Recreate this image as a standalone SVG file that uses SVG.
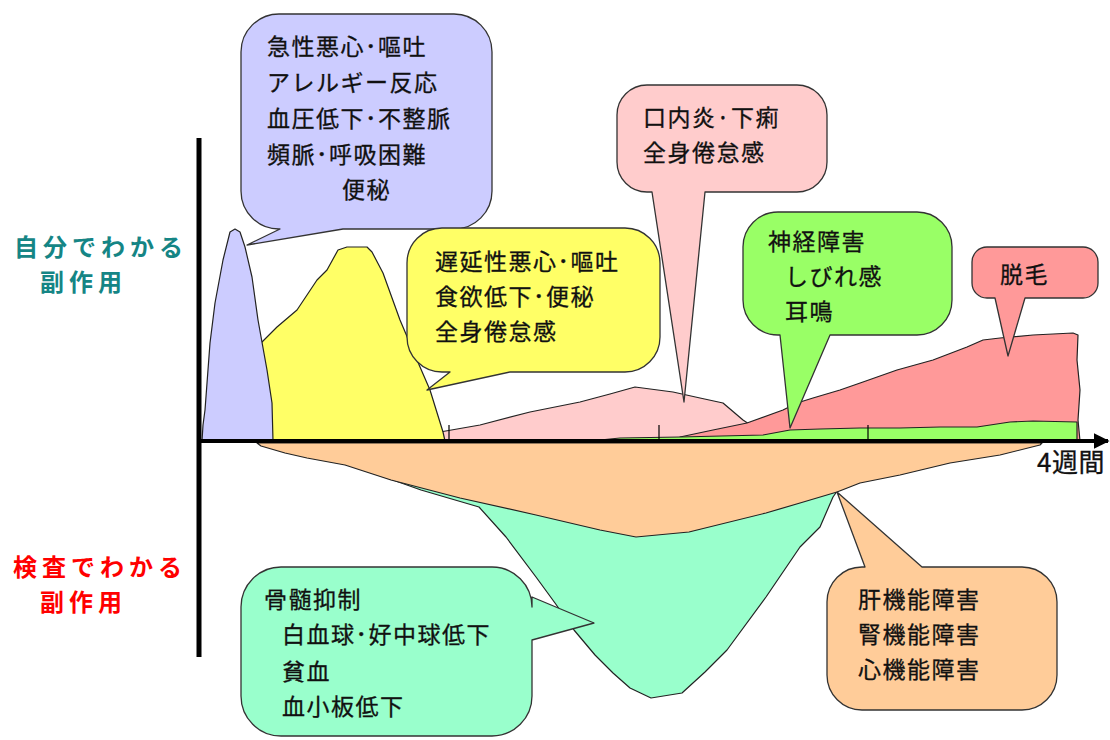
<svg xmlns="http://www.w3.org/2000/svg" width="1110" height="740" viewBox="0 0 1110 740">
<style>
.area{stroke:#222;stroke-width:1.2;stroke-linejoin:round}
.bub{stroke:#333;stroke-width:1.3;stroke-linejoin:round}
.t{font-family:"Noto Sans CJK JP","Noto Sans CJK SC",sans-serif;font-size:23px;fill:#111;stroke:#111;stroke-width:0.3;letter-spacing:1.5px}
.lab{font-family:"Noto Sans CJK JP","Noto Sans CJK SC",sans-serif;font-size:24px;letter-spacing:5px;font-weight:bold}
</style>
<defs>
<marker id="arr" viewBox="0 0 10 10" refX="9" refY="5" markerWidth="4" markerHeight="4" orient="auto" markerUnits="strokeWidth"><path d="M0,0 L10,5 L0,10 Z" fill="#000"/></marker>
</defs>
<rect width="1110" height="740" fill="#fff"/>

<g id="areas">
<path id="area-pink" class="area" fill="#ffcccc" d="M393,441 L420,436 L440,432 L480,425 L530,412 L580,402 L610,394 L635,387 L673,392 L700,398 L723,403 L743,420 L758,430 L770,441 Z"/>
<path id="area-red" class="area" fill="#ff9999" d="M680,441 L680,437 L713,430 L747,423 L783,410 L797,403 L813,398 L840,390 L863,382 L897,370 L933,360 L967,347 L983,340 L1000,338 L1033,335 L1073,333 L1078,335 L1077,360 L1080,390 L1078,420 L1080,441 Z"/>
<path id="area-green" class="area" fill="#99ff66" d="M590,441 L620,438 L680,437 L763,435 L790,430 L820,429 L860,428 L900,428 L940,427 L977,427 L1010,422 L1033,421 L1077,422 L1077,441 Z"/>
<path id="area-yellow" class="area" fill="#ffff66" d="M255,441 L258,346 L262,342 L277,327 L297,310 L317,280 L327,270 L338,250 L347,247 L367,247 L372,252 L383,273 L400,320 L417,360 L430,390 L443,432 L445,441 Z"/>
<path id="area-blue" class="area" fill="#ccccff" d="M202,441 L203,425 L205,410 L210,343 L215,303 L223,260 L230,232 L235,229 L240,232 L245,247 L252,277 L258,320 L267,370 L272,403 L273,441 Z"/>
<path id="area-teal" class="area" fill="#99ffcc" d="M330,443 L345,463 L421,490 L479,507 L506,537 L536,577 L555,603 L574,630 L595,655 L613,673 L630,688 L651,698 L682,693 L705,672 L727,650 L766,597 L800,547 L820,527 L833,497 L845,480 L845,443 Z"/>
<path id="area-orange" class="area" fill="#ffcc99" d="M257,443 L261,446 L285,453 L307,458 L345,465 L391,480 L460,498 L536,515 L600,530 L636,537 L689,532 L766,513 L800,503 L837,492 L860,483 L900,475 L950,463 L1000,455 L1040,445 L1042,443 Z"/>
</g>

<g id="axes">
<line x1="199" y1="138" x2="199" y2="657" stroke="#000" stroke-width="5"/>
<line x1="199" y1="441" x2="1108" y2="441" stroke="#000" stroke-width="4" marker-end="url(#arr)"/>
<line x1="449" y1="425" x2="449" y2="441" stroke="#000" stroke-width="1.2"/>
<line x1="659" y1="425" x2="659" y2="441" stroke="#000" stroke-width="1.2"/>
<line x1="868" y1="425" x2="868" y2="441" stroke="#000" stroke-width="1.2"/>
<text x="1037" y="472" class="t" style="font-size:26px;letter-spacing:0.5px">4週間</text>
</g>

<g id="label-self">
<text class="lab" fill="#158585" x="14" y="256">自分でわかる</text>
<text class="lab" fill="#158585" x="40" y="291">副作用</text>
</g>
<g id="label-test">
<text class="lab" fill="#ff0000" x="13" y="576">検査でわかる</text>
<text class="lab" fill="#ff0000" x="40" y="611">副作用</text>
</g>

<g id="bubble-acute">
<path class="bub" fill="#ccccff" d="M279,14 H454 A38,38 0 0 1 492,52 V191 A38,38 0 0 1 454,229 H343 L247,245 L280,229 A38,38 0 0 1 241,191 V52 A38,38 0 0 1 279,14 Z"/>
<text class="t" x="267" y="55">急性悪心･嘔吐</text>
<text class="t" x="267" y="91">アレルギー反応</text>
<text class="t" x="267" y="127">血圧低下･不整脈</text>
<text class="t" x="267" y="163">頻脈･呼吸困難</text>
<text class="t" x="342" y="198">便秘</text>
</g>

<g id="bubble-delayed">
<path class="bub" fill="#ffff66" d="M442,228 H625 A35,35 0 0 1 660,263 V337 A35,35 0 0 1 625,372 H510 L427,390 L450,372 H442 A35,35 0 0 1 407,337 V263 A35,35 0 0 1 442,228 Z"/>
<text class="t" x="435" y="270">遅延性悪心･嘔吐</text>
<text class="t" x="435" y="305">食欲低下･便秘</text>
<text class="t" x="435" y="340">全身倦怠感</text>
</g>

<g id="bubble-stomatitis">
<path class="bub" fill="#ffcccc" d="M647,85 H797 A30,30 0 0 1 827,115 V162 A30,30 0 0 1 797,192 H705 L684,402 L652,192 H647 A30,30 0 0 1 617,162 V115 A30,30 0 0 1 647,85 Z"/>
<text class="t" x="643" y="126">口内炎·下痢</text>
<text class="t" x="643" y="161">全身倦怠感</text>
</g>

<g id="bubble-neuro">
<path class="bub" fill="#99ff66" d="M778,212 H917 A35,35 0 0 1 952,247 V300 A35,35 0 0 1 917,335 H830 L790,428 L780,335 H778 A35,35 0 0 1 743,300 V247 A35,35 0 0 1 778,212 Z"/>
<text class="t" x="768" y="250">神経障害</text>
<text class="t" x="785" y="285">しびれ感</text>
<text class="t" x="785" y="320">耳鳴</text>
</g>

<g id="bubble-hair">
<path class="bub" fill="#ff9999" d="M987,247 H1083 A15,15 0 0 1 1098,262 V283 A15,15 0 0 1 1083,298 H1025 L1008,356 L995,298 H987 A15,15 0 0 1 972,283 V262 A15,15 0 0 1 987,247 Z"/>
<text class="t" x="1000" y="283">脱毛</text>
</g>

<g id="bubble-organ">
<path class="bub" fill="#ffcc99" d="M862,567 H865 L837,492 L922,567 H1022 A35,35 0 0 1 1057,602 V675 A35,35 0 0 1 1022,710 H862 A35,35 0 0 1 827,675 V602 A35,35 0 0 1 862,567 Z"/>
<text class="t" x="858" y="608">肝機能障害</text>
<text class="t" x="858" y="643">腎機能障害</text>
<text class="t" x="858" y="678">心機能障害</text>
</g>

<g id="bubble-marrow">
<path class="bub" fill="#99ffcc" d="M281,567 H492 A40,40 0 0 1 532,607 V597 L594,623 L532,640 V696 A40,40 0 0 1 492,736 H281 A40,40 0 0 1 241,696 V607 A40,40 0 0 1 281,567 Z"/>
<text class="t" x="264" y="608">骨髄抑制</text>
<text class="t" x="282" y="643">白血球･好中球低下</text>
<text class="t" x="282" y="680">貧血</text>
<text class="t" x="282" y="715">血小板低下</text>
</g>
</svg>
